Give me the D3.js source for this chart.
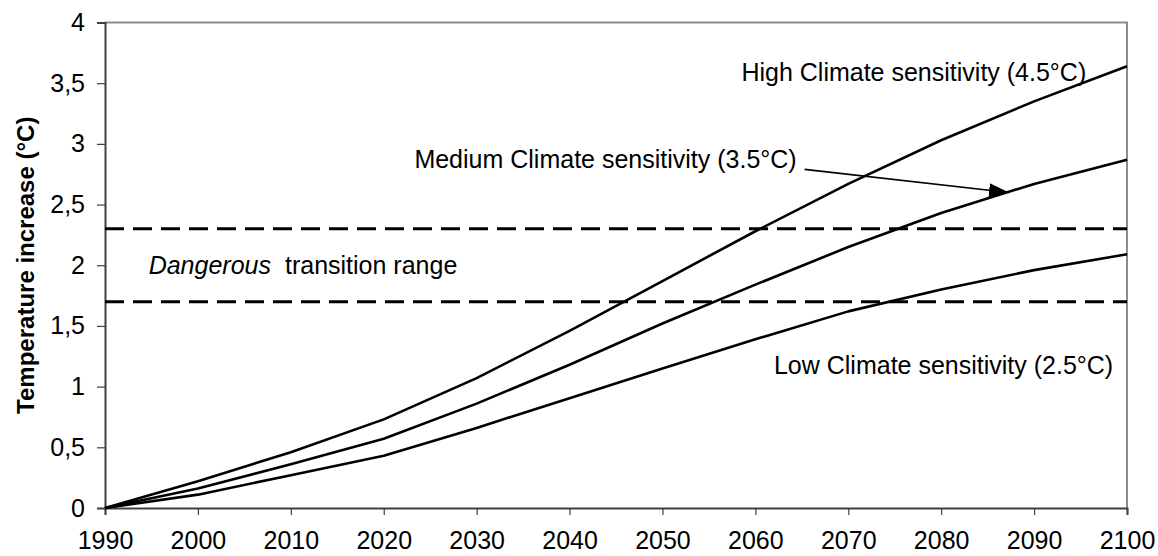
<!DOCTYPE html>
<html>
<head>
<meta charset="utf-8">
<script src="https://cdn.jsdelivr.net/npm/d3@7"></script>
<style>
  body { margin: 0; background: #fff; }
  text { font-family: "Liberation Sans", Arial, sans-serif; fill: #000; }
</style>
</head>
<body>
<div id="chart"></div>
<script>
// data
var years = [1990, 2000, 2010, 2020, 2030, 2040, 2050, 2060, 2070, 2080, 2090, 2100];
var highSens = [0, 0.22, 0.46, 0.73, 1.07, 1.46, 1.87, 2.28, 2.67, 3.03, 3.35, 3.64];
var mediumSens = [0, 0.16, 0.36, 0.57, 0.86, 1.18, 1.52, 1.84, 2.15, 2.43, 2.67, 2.87];
var lowSens = [0, 0.11, 0.27, 0.43, 0.66, 0.905, 1.15, 1.39, 1.62, 1.80, 1.96, 2.09];
var yTicks = [0, 0.5, 1, 1.5, 2, 2.5, 3, 3.5, 4];
var dangerRange = [1.7, 2.3];

var _width = 1158, _height = 556;
var _margin = {top: 22.5, right: 31, bottom: 48, left: 105};
var _fontSize = 25;

var svg = d3.select("#chart").append("svg")
    .attr("width", _width)
    .attr("height", _height);

var x = d3.scaleLinear().domain([1990, 2100]).range([_margin.left, _width - _margin.right]);
var y = d3.scaleLinear().domain([0, 4]).range([_height - _margin.bottom, _margin.top]);

// frame: top and right in grey
svg.append("path")
    .attr("d", "M" + x(1990) + "," + y(4) + "H" + x(2100) + "V" + y(0))
    .attr("fill", "none")
    .attr("stroke", "#8c8c8c")
    .attr("stroke-width", 2);

// y axis
var yAxis = svg.append("g")
    .attr("transform", "translate(" + x(1990) + ",0)")
    .call(d3.axisLeft(y).tickValues(yTicks).tickSize(8).tickPadding(12)
        .tickFormat(function(d) { return String(d).replace(".", ","); }));
yAxis.select(".domain").attr("stroke", "#404040").attr("stroke-width", 2);
yAxis.selectAll(".tick line").attr("stroke", "#404040").attr("stroke-width", 1.2);
yAxis.selectAll(".tick text")
    .style("font-size", _fontSize + "px")
    .style("font-family", "Liberation Sans, Arial, sans-serif")
    .attr("fill", "#000");

// x axis
var xAxis = svg.append("g")
    .attr("transform", "translate(0," + y(0) + ")")
    .call(d3.axisBottom(x).tickValues(years).tickSize(7).tickPadding(16)
        .tickFormat(d3.format("d")));
xAxis.select(".domain").attr("stroke", "#404040").attr("stroke-width", 2);
xAxis.selectAll(".tick line").attr("stroke", "#404040").attr("stroke-width", 1.2);
xAxis.selectAll(".tick text")
    .style("font-size", _fontSize + "px")
    .style("font-family", "Liberation Sans, Arial, sans-serif")
    .attr("fill", "#000");

// y axis title
svg.append("text")
    .attr("transform", "translate(34," + ((y(0) + y(4)) / 2) + ") rotate(-90)")
    .attr("text-anchor", "middle")
    .style("font-size", "24px")
    .style("font-weight", "bold")
    .text("Temperature increase (°C)");

// dangerous range, dashed
svg.selectAll(".danger")
    .data(dangerRange)
  .enter().append("line")
    .attr("class", "danger")
    .attr("x1", x(1990))
    .attr("x2", x(2100))
    .attr("y1", function(d) { return y(d); })
    .attr("y2", function(d) { return y(d); })
    .attr("stroke", "#000")
    .attr("stroke-width", 3)
    .attr("stroke-dasharray", "19,9");

var dText = svg.append("text")
    .attr("x", x(1994.7))
    .attr("y", y(1.93))
    .style("font-size", _fontSize + "px");
dText.append("tspan").style("font-style", "italic").text("Dangerous");
dText.append("tspan").attr("dx", 14).text("transition range");

// the three curves
var line = d3.line()
    .x(function(d, i) { return x(years[i]); })
    .y(function(d) { return y(d); });

svg.selectAll(".curve")
    .data([highSens, mediumSens, lowSens])
  .enter().append("path")
    .attr("class", "curve")
    .attr("d", line)
    .attr("fill", "none")
    .attr("stroke", "#000")
    .attr("stroke-width", 2.6)
    .attr("stroke-linejoin", "round");

// curve labels
svg.append("text")
    .attr("x", x(2058.5))
    .attr("y", y(3.52))
    .style("font-size", _fontSize + "px")
    .text("High Climate sensitivity (4.5°C)");

svg.append("text")
    .attr("x", x(2023.3))
    .attr("y", y(2.8))
    .style("font-size", _fontSize + "px")
    .text("Medium Climate sensitivity (3.5°C)");

svg.append("text")
    .attr("x", x(2062))
    .attr("y", y(1.1))
    .style("font-size", _fontSize + "px")
    .text("Low Climate sensitivity (2.5°C)");

// arrow from medium label to its curve
svg.append("defs").append("marker")
    .attr("id", "arrow")
    .attr("viewBox", "0 0 20 14")
    .attr("refX", 20)
    .attr("refY", 7)
    .attr("markerWidth", 20)
    .attr("markerHeight", 14)
    .attr("markerUnits", "userSpaceOnUse")
    .attr("orient", "auto")
  .append("path")
    .attr("d", "M0,0L20,7L0,14Z")
    .attr("fill", "#000");

svg.append("line")
    .attr("x1", x(2065.3))
    .attr("y1", y(2.79))
    .attr("x2", x(2087.3))
    .attr("y2", y(2.60))
    .attr("stroke", "#000")
    .attr("stroke-width", 1.6)
    .attr("marker-end", "url(#arrow)");
</script>
</body>
</html>
